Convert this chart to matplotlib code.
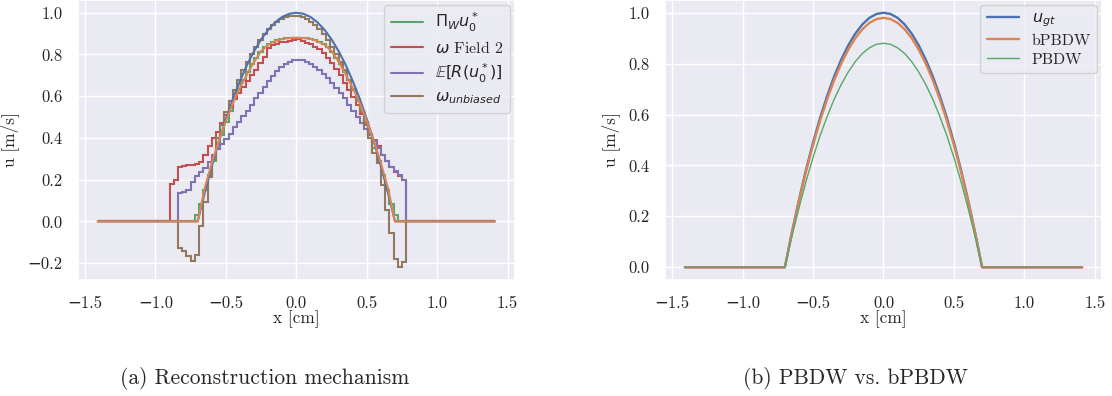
import numpy as np
import matplotlib
matplotlib.use("Agg")
import matplotlib.pyplot as plt
import seaborn as sns

sns.set_theme(style="darkgrid")
plt.rcParams["font.family"] = ["cmr10", "DejaVu Sans"]
plt.rcParams["axes.formatter.use_mathtext"] = False
plt.rcParams["axes.unicode_minus"] = True

# bords des cellules (pas 0.03 de -0.9 a 0.78), plus les extremites du domaine
X_MIN, X_MAX = -1.41, 1.41
CELL_EDGES = np.round(np.arange(-0.9, 0.78 + 1e-9, 0.03), 3)

PI_W = [0, 0, 0, 0, 0, 0, 0.03, 0.085, 0.15, 0.22, 0.288, 0.352, 0.415, 0.475,
        0.53, 0.585, 0.634, 0.678, 0.718, 0.755, 0.785, 0.812, 0.835, 0.85,
        0.86, 0.868, 0.873, 0.877, 0.879, 0.88, 0.88, 0.879, 0.877, 0.873,
        0.868, 0.86, 0.85, 0.835, 0.812, 0.785, 0.755, 0.718, 0.678, 0.634,
        0.585, 0.53, 0.475, 0.415, 0.352, 0.288, 0.22, 0.15, 0.085, 0.03, 0, 0]
FIELD2 = [0.18, 0.20, 0.26, 0.265, 0.27, 0.27, 0.275, 0.285, 0.32, 0.36, 0.40,
          0.43, 0.47, 0.51, 0.55, 0.585, 0.615, 0.645, 0.675, 0.70, 0.725,
          0.76, 0.79, 0.83, 0.845, 0.852, 0.858, 0.862, 0.866, 0.870, 0.875,
          0.865, 0.855, 0.848, 0.838, 0.826, 0.808, 0.785, 0.76, 0.73, 0.70,
          0.665, 0.63, 0.595, 0.56, 0.515, 0.465, 0.42, 0.39, 0.36, 0.32, 0.29,
          0.26, 0.235, 0.215, 0.20]
EXP_R = [0, 0, 0.134, 0.14, 0.15, 0.19, 0.215, 0.237, 0.258, 0.285, 0.317,
         0.345, 0.37, 0.395, 0.42, 0.45, 0.475, 0.505, 0.53, 0.56, 0.59, 0.615,
         0.645, 0.672, 0.695, 0.72, 0.738, 0.752, 0.765, 0.772, 0.775, 0.773,
         0.765, 0.755, 0.742, 0.726, 0.707, 0.688, 0.665, 0.64, 0.615, 0.59,
         0.56, 0.53, 0.50, 0.47, 0.445, 0.415, 0.385, 0.35, 0.32, 0.29, 0.26,
         0.24, 0.22, 0.20]
UNBIASED = [0, 0, -0.13, -0.14, -0.168, -0.19, -0.16, -0.02, 0.093, 0.213, 0.30,
            0.40, 0.462, 0.522, 0.578, 0.630, 0.679, 0.724, 0.766, 0.804, 0.838,
            0.869, 0.896, 0.920, 0.940, 0.956, 0.969, 0.978, 0.983, 0.985,
            0.983, 0.978, 0.969, 0.956, 0.940, 0.920, 0.896, 0.869, 0.838,
            0.804, 0.766, 0.724, 0.679, 0.630, 0.578, 0.522, 0.462, 0.40, 0.33,
            0.28, 0.175, 0.053, -0.058, -0.18, -0.22, -0.197]

# profils lisses
X_SMOOTH = [-1.41, -0.7, -0.65, -0.6, -0.55, -0.5, -0.45, -0.4, -0.35, -0.3,
            -0.25, -0.2, -0.15, -0.1, -0.05, 0.0, 0.05, 0.1, 0.15, 0.2, 0.25,
            0.3, 0.35, 0.4, 0.45, 0.5, 0.55, 0.6, 0.65, 0.7, 1.41]
U_GT = [0, 0, 0.138, 0.265, 0.383, 0.490, 0.587, 0.673, 0.750, 0.816, 0.872,
        0.918, 0.954, 0.980, 0.995, 1.0, 0.995, 0.980, 0.954, 0.918, 0.872,
        0.816, 0.750, 0.673, 0.587, 0.490, 0.383, 0.265, 0.138, 0, 0]
# courbe orange du panneau (a), presque cachee sous les escaliers
PROJ_SMOOTH = [0, 0, 0.16, 0.28, 0.385, 0.48, 0.567, 0.64, 0.705, 0.765, 0.816,
               0.846, 0.864, 0.874, 0.879, 0.88, 0.879, 0.874, 0.864, 0.846,
               0.816, 0.765, 0.705, 0.64, 0.567, 0.48, 0.385, 0.28, 0.16, 0, 0]
BPBDW = [0, 0, 0.135, 0.260, 0.375, 0.480, 0.575, 0.660, 0.735, 0.800, 0.855,
         0.900, 0.935, 0.960, 0.975, 0.98, 0.975, 0.960, 0.935, 0.900, 0.855,
         0.800, 0.735, 0.660, 0.575, 0.480, 0.375, 0.260, 0.135, 0, 0]
PBDW = [0, 0, 0.121, 0.233, 0.337, 0.431, 0.517, 0.592, 0.660, 0.718, 0.767,
        0.808, 0.840, 0.862, 0.876, 0.88, 0.876, 0.862, 0.840, 0.808, 0.767,
        0.718, 0.660, 0.592, 0.517, 0.431, 0.337, 0.233, 0.121, 0, 0]

pal = sns.color_palette("deep")
TICK_FS = 12
LABEL_FS = 12.5
LEG_FS = 11.5


def stairs(ax, vals, color, label):
    edges = np.concatenate([[X_MIN], CELL_EDGES, [X_MAX]])
    v = np.concatenate([[0.0], vals, [0.0]])
    ax.stairs(v, edges, baseline=None, color=color, lw=1.5, label=label)


fig = plt.figure(figsize=(11.12, 3.96), dpi=100)
ax1 = fig.add_axes([0.070, 0.293, 0.393, 0.707])
ax2 = fig.add_axes([0.598, 0.293, 0.393, 0.707])

# (a) mecanisme de reconstruction
ax1.plot(X_SMOOTH, U_GT, color=pal[0], lw=1.5)
ax1.plot(X_SMOOTH, PROJ_SMOOTH, color=pal[1], lw=1.5)
stairs(ax1, PI_W, pal[2], r"$\Pi_W u_0^*$")
stairs(ax1, FIELD2, pal[3], r"$\omega$ Field 2")
stairs(ax1, EXP_R, pal[4], r"$\mathbb{E}[R(u_0^*)]$")
stairs(ax1, UNBIASED, pal[5], r"$\omega_{unbiased}$")
ax1.legend(loc="upper right", fontsize=LEG_FS, labelspacing=0.35,
           borderaxespad=0.3)

# (b) PBDW vs bPBDW
ax2.plot(X_SMOOTH, U_GT, color=pal[0], lw=1.7, label=r"$u_{gt}$")
ax2.plot(X_SMOOTH, BPBDW, color=pal[1], lw=1.7, label="bPBDW")
ax2.plot(X_SMOOTH, PBDW, color=pal[2], lw=1.0, label="PBDW")
ax2.legend(loc="upper right", fontsize=LEG_FS, labelspacing=0.3,
           borderaxespad=0.3)

for ax in (ax1, ax2):
    ax.set_xticks([-1.5, -1.0, -0.5, 0.0, 0.5, 1.0, 1.5])
    ax.set_xlabel("x [cm]", fontsize=LABEL_FS, labelpad=0)
    ax.set_ylabel("u [m/s]", fontsize=LABEL_FS, labelpad=6)
    ax.tick_params(labelsize=TICK_FS, pad=5)

fig.text(0.238, 0.043, "(a) Reconstruction mechanism", ha="center", va="center", fontsize=15.5)
fig.text(0.769, 0.043, "(b) PBDW vs. bPBDW", ha="center", va="center", fontsize=15.5)

fig.savefig("out.png", dpi=100)
